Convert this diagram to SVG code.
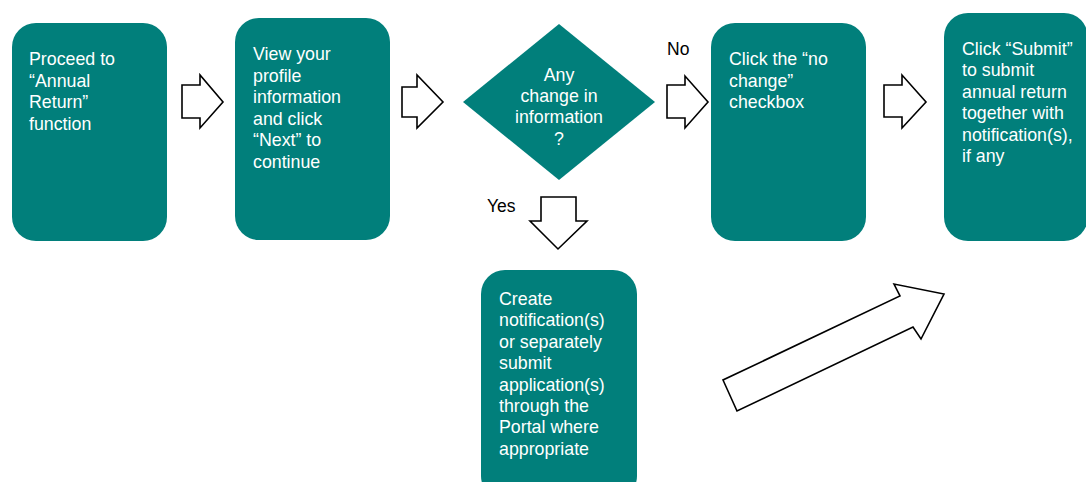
<svg xmlns="http://www.w3.org/2000/svg" width="1086" height="482" viewBox="0 0 1086 482">
<style>
.box{fill:#017F7B;}
.t{font-family:"Liberation Sans",Arial,sans-serif;font-size:17.8px;fill:#ffffff;}
.c{text-anchor:middle;}
.lbl{font-family:"Liberation Sans",Arial,sans-serif;font-size:17.5px;fill:#000000;}
.arr{fill:#ffffff;stroke:#000000;stroke-width:1.6;stroke-linejoin:miter;}
</style>
<rect width="1086" height="482" fill="#ffffff"/>
<g id="n1">
<rect class="box" x="12" y="23" width="155" height="218" rx="24"/>
<text class="t" x="29" y="65">Proceed to<tspan x="29" dy="21.5">“Annual</tspan><tspan x="29" dy="21.5">Return”</tspan><tspan x="29" dy="21.5">function</tspan></text>
</g>
<g id="n2">
<rect class="box" x="235" y="18" width="155" height="222" rx="24"/>
<text class="t" x="253" y="60">View your<tspan x="253" dy="21.5">profile</tspan><tspan x="253" dy="21.5">information</tspan><tspan x="253" dy="21.5">and click</tspan><tspan x="253" dy="21.5">“Next” to</tspan><tspan x="253" dy="21.5">continue</tspan></text>
</g>
<g id="n3">
<polygon class="box" points="559,24 655,102 559,180 463,102"/>
<text class="t c" x="559" y="81">Any<tspan x="559" dy="21.2">change in</tspan><tspan x="559" dy="21.2">information</tspan><tspan x="559" dy="21.2">?</tspan></text>
</g>
<g id="n4">
<rect class="box" x="711" y="23" width="155" height="218" rx="24"/>
<text class="t" x="729" y="65">Click the “no<tspan x="729" dy="21.5">change”</tspan><tspan x="729" dy="21.5">checkbox</tspan></text>
</g>
<g id="n5">
<rect class="box" x="944" y="13" width="144" height="228" rx="24"/>
<text class="t" x="962" y="55">Click “Submit”<tspan x="962" dy="21.4">to submit</tspan><tspan x="962" dy="21.4">annual return</tspan><tspan x="962" dy="21.4">together with</tspan><tspan x="962" dy="21.4">notification(s),</tspan><tspan x="962" dy="21.4">if any</tspan></text>
</g>
<g id="n6">
<rect class="box" x="481" y="270" width="156" height="230" rx="24"/>
<text class="t" x="499" y="305">Create<tspan x="499" dy="21.4">notification(s)</tspan><tspan x="499" dy="21.4">or separately</tspan><tspan x="499" dy="21.4">submit</tspan><tspan x="499" dy="21.4">application(s)</tspan><tspan x="499" dy="21.4">through the</tspan><tspan x="499" dy="21.4">Portal where</tspan><tspan x="499" dy="21.4">appropriate</tspan></text>
</g>
<g id="connectors">
<polygon class="arr" points="182,85 200,85 200,75 223,102 200,128 200,118 182,118"/>
<polygon class="arr" points="402,87 417,87 417,75 443,102 417,128 417,117 402,117"/>
<polygon class="arr" points="667,85 685,85 685,76 708,102 685,128 685,118 667,118"/>
<polygon class="arr" points="884,85 902,85 902,75 926,102 902,128 902,117 884,117"/>
<polygon class="arr" points="541,197 576,197 576,221 587,221 558,249 530,221 541,221"/>
<polygon class="arr" points="737,411 723,380 900,296 894,284 944,294 921,339 913,327"/>
<text class="lbl" x="667" y="55">No</text>
<text class="lbl" x="487" y="212">Yes</text>
</g>
</svg>
